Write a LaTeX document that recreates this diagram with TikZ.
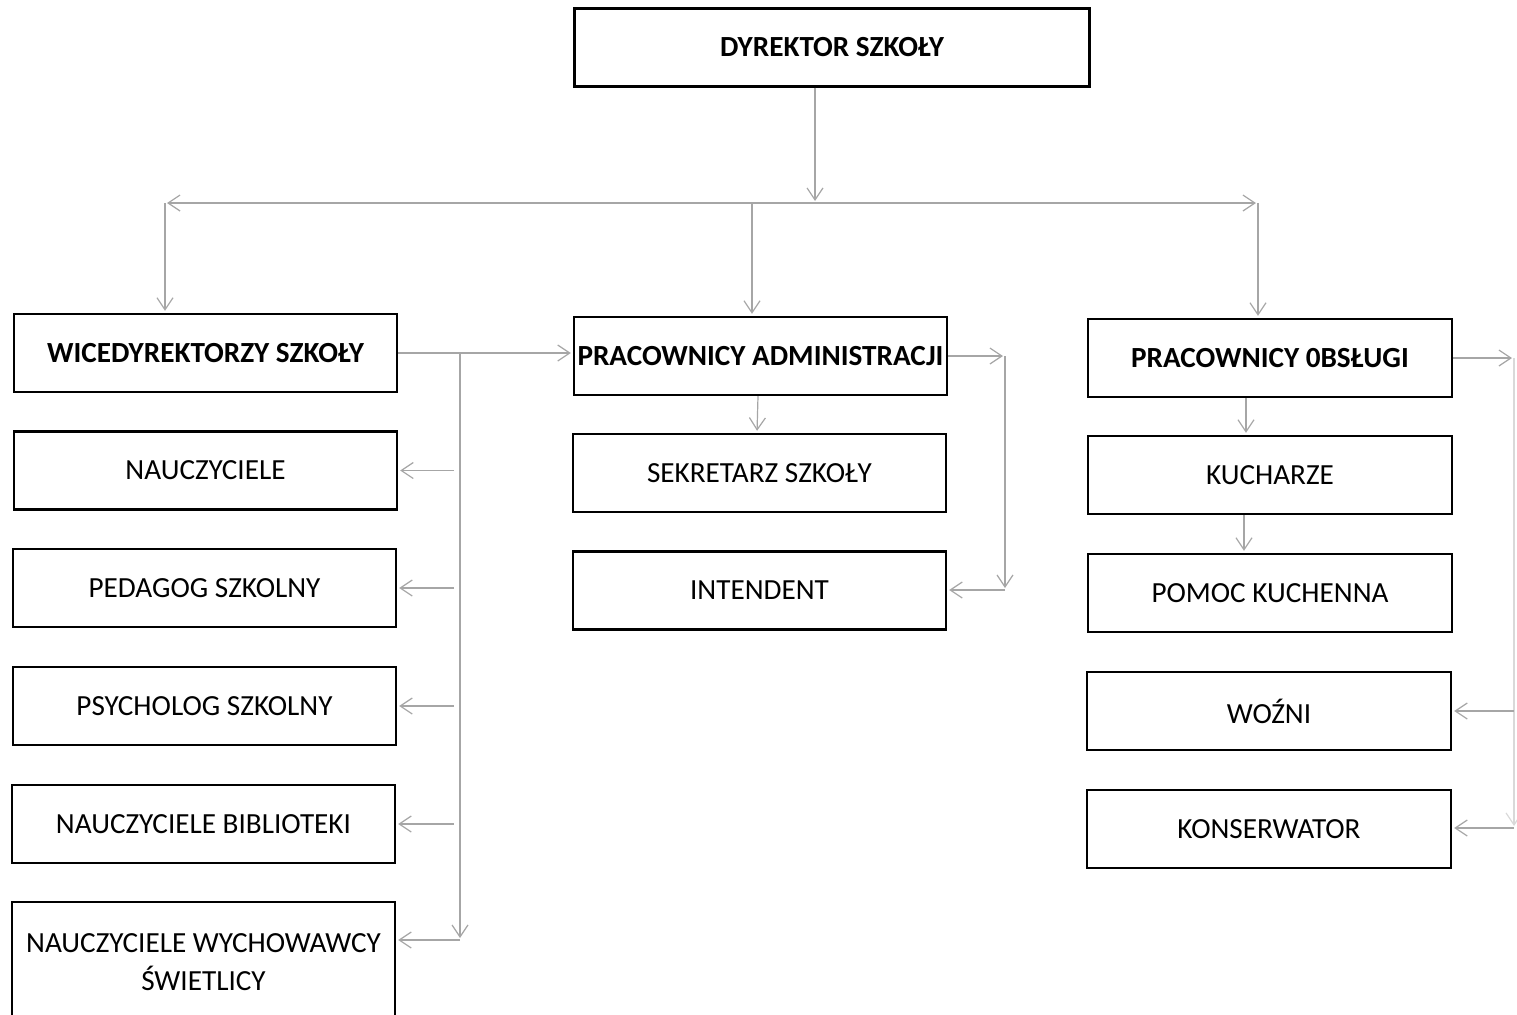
\documentclass[tikz,border=0pt]{standalone}
\usepackage{fontspec}
\setmainfont{Carlito}
\usetikzlibrary{arrows.meta}

\tikzset{
  box/.style={draw, line width=1.2pt, inner sep=0pt, minimum height=39pt,
              align=center, font=\fontsize{14.6}{19}\selectfont},
  headbox/.style={box, font=\fontsize{14.6}{19}\selectfont\bfseries},
  link/.style={draw=black!35, line width=0.6pt, shorten >=1pt,
               -{Straight Barb[length=6pt, width=8pt]}},
}

\begin{document}
\begin{tikzpicture}[x=0.5pt, y=-0.5pt]

  \useasboundingbox (0,0) rectangle (1517,1014);

  % Dyrekcja.
  \node[headbox, minimum width=257.5pt] (dyr) at (832,47.5) {DYREKTOR SZKOŁY};

  % Kolumna lewa.
  \node[headbox, minimum width=191.5pt] (wice) at (205.5,353) {WICEDYREKTORZY SZKOŁY};
  \node[box, minimum width=191.5pt] (nau)  at (205.5,470.5) {NAUCZYCIELE};
  \node[box, minimum width=191.5pt] (ped)  at (204.5,588)   {PEDAGOG SZKOLNY};
  \node[box, minimum width=191.5pt] (psy)  at (204.5,706)   {PSYCHOLOG SZKOLNY};
  \node[box, minimum width=191.5pt] (bib)  at (203.5,824)   {NAUCZYCIELE BIBLIOTEKI};
  \node[box, minimum width=191.5pt, minimum height=60pt] (wych) at (203.5,962)
       {NAUCZYCIELE WYCHOWAWCY\\ ŚWIETLICY};

  % Kolumna środkowa.
  \node[headbox, minimum width=186.5pt] (adm) at (760.5,356) {PRACOWNICY ADMINISTRACJI};
  \node[box, minimum width=186.5pt] (sek) at (759.5,473) {SEKRETARZ SZKOŁY};
  \node[box, minimum width=186.5pt] (int) at (759.5,590.5) {INTENDENT};

  % Kolumna prawa.
  \node[headbox, minimum width=182pt] (obs)  at (1270,358) {PRACOWNICY 0BSŁUGI};
  \node[box, minimum width=182pt] (kuch) at (1270,475) {KUCHARZE};
  \node[box, minimum width=182pt] (pom)  at (1270,593) {POMOC KUCHENNA};
  \node[box, minimum width=182pt] (woz)  at (1269,711) {WOŹNI};
  \node[box, minimum width=182pt] (kons) at (1269,829) {KONSERWATOR};

  % Punkty załamania.
  \coordinate (hub)  at (815,203);
  \coordinate (hubL) at (165,203);
  \coordinate (hubM) at (752,203);
  \coordinate (hubR) at (1258,203);
  \coordinate (wv) at (460,353);
  \coordinate (wb) at (460,940);
  \coordinate (ar) at (1005,356);
  \coordinate (ab) at (1005,590);
  \coordinate (or) at (1514,358);
  \coordinate (ob) at (1514,828);

  % Od dyrektora.
  \draw[link] (dyr.south -| hub) -- (hub);
  \draw[link] (hub) -- (hubL);
  \draw[link] (hub) -- (hubR);
  \draw[link] (hubL) -- (hubL |- wice.north);
  \draw[link] (hubM) -- (hubM |- adm.north);
  \draw[link] (hubR) -- (hubR |- obs.north);

  % Wicedyrektorzy.
  \draw[link] (wice.east) -- (wice.east -| adm.west);
  \draw[link] (wv) -- (wb);
  \foreach \n in {nau,ped,psy,bib}
    \draw[link] ([xshift=-3pt]\n.east -| wv) -- (\n.east);
  \draw[link] (wb) -- (wb -| wych.east);

  % Administracja.
  \draw[link] (adm.east) -- (ar);
  \draw[link] (ar) -- (ab);
  \draw[link] (ab) -- (ab -| int.east);
  \draw[link] ([xshift=-1.25pt]adm.south) -- ([xshift=-1.25pt]sek.north);

  % Obsługa.
  \draw[link] ([xshift=-12pt]obs.south) -- ([xshift=-12pt]kuch.north);
  \draw[link] ([xshift=-13pt]kuch.south) -- ([xshift=-13pt]pom.north);
  \draw[link] (obs.east) -- (or);
  \draw[link, draw=black!15] (or) -- (ob);
  \draw[link] (ob |- woz.east) -- (woz.east);
  \draw[link] (ob) -- (ob -| kons.east);

\end{tikzpicture}
\end{document}
